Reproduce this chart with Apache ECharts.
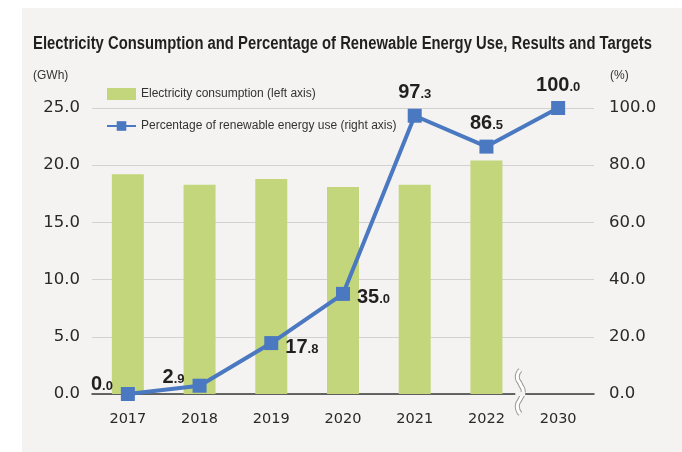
<!DOCTYPE html>
<html>
<head>
<meta charset="utf-8">
<style>
  html, body { margin: 0; padding: 0; background: #ffffff; }
  #chart { width: 682px; height: 452px; }
</style>
<script src="https://cdn.jsdelivr.net/npm/echarts@6/dist/echarts.min.js"></script>
</head>
<body>
<div id="chart"></div>
<script>
// Fiscal years on the category axis (2030 is the target year)
const years = ['2017', '2018', '2019', '2020', '2021', '2022', '2030'];
// Electricity consumption, GWh (no result for the 2030 target)
const consumption = [19.2, 18.3, 18.8, 18.1, 18.3, 20.4, null];
// Share of renewable energy, %
const renewableShare = [0.0, 2.9, 17.8, 35.0, 97.3, 86.5, 100.0];
// Tick settings for both value axes
const leftTicks = { min: 0, max: 25, interval: 5 };
const rightTicks = { min: 0, max: 100, interval: 20 };

const TITLE = 'Electricity Consumption and Percentage of Renewable Energy Use, Results and Targets';
const GREEN = '#c3d67b';
const BLUE = '#4a78c1';
const TEXT = '#231f20';
const PANEL = '#f4f3f1';
const SANS = '"Liberation Sans", Arial, sans-serif';
const WIDE = '"DejaVu Sans", sans-serif';

// Where each percentage label sits relative to its point
const labelPlacement = [
  { position: 'left', offset: [-3, -10] },
  { position: 'left', offset: [-3, -8] },
  { position: 'right', offset: [2, 4] },
  { position: 'right', offset: [2, 4] },
  { position: 'top', offset: [0, -1] },
  { position: 'top', offset: [0, -1] },
  { position: 'top', offset: [0, -1] }
];

function splitValue(v) {
  const s = v.toFixed(1).split('.');
  return '{i|' + s[0] + '}{d|.' + s[1] + '}';
}

const lineData = renewableShare.map(function (v, i) {
  return {
    value: v,
    label: {
      show: true,
      position: labelPlacement[i].position,
      offset: labelPlacement[i].offset,
      formatter: function (p) { return splitValue(p.value); },
      rich: {
        i: { fontFamily: SANS, fontWeight: 'bold', fontSize: 20, color: TEXT },
        d: { fontFamily: SANS, fontWeight: 'bold', fontSize: 13, color: TEXT, padding: [4, 0, 0, 0] }
      }
    }
  };
});

const chart = echarts.init(document.getElementById('chart'), null, { renderer: 'canvas' });

chart.setOption({
  backgroundColor: '#ffffff',
  animation: false,
  legend: {
    orient: 'vertical',
    left: 106,
    top: 88,
    padding: 0,
    itemGap: 19,
    itemWidth: 29,
    itemHeight: 12,
    itemGap: 20,
    textStyle: { fontFamily: SANS, fontSize: 12, color: '#333333' },
    data: [
      { name: 'Electricity consumption (left axis)', icon: 'rect', itemStyle: { color: GREEN } },
      { name: 'Percentage of renewable energy use (right axis)' }
    ]
  },
  grid: { left: 92, right: 88, top: 108, bottom: 58 },
  xAxis: {
    type: 'category',
    data: years,
    axisLine: { lineStyle: { color: '#3a3a3a', width: 1.5 } },
    axisTick: { show: false },
    axisLabel: { fontFamily: WIDE, fontSize: 14.5, color: '#2b2829', margin: 18 }
  },
  yAxis: [
    {
      type: 'value',
      min: leftTicks.min, max: leftTicks.max, interval: leftTicks.interval,
      axisLine: { show: false },
      axisTick: { show: false },
      splitLine: { lineStyle: { color: '#d2d2d2', width: 1 } },
      axisLabel: {
        fontFamily: WIDE, fontSize: 16.5, color: '#2b2829', margin: 12,
        formatter: function (v) { return v.toFixed(1); }
      }
    },
    {
      type: 'value',
      min: rightTicks.min, max: rightTicks.max, interval: rightTicks.interval,
      axisLine: { show: false },
      axisTick: { show: false },
      splitLine: { show: false },
      axisLabel: {
        fontFamily: WIDE, fontSize: 16.5, color: '#2b2829', margin: 15,
        formatter: function (v) { return v.toFixed(1); }
      }
    }
  ],
  series: [
    {
      name: 'Electricity consumption (left axis)',
      type: 'bar',
      yAxisIndex: 0,
      barWidth: 32,
      data: consumption,
      itemStyle: { color: GREEN },
      z: 2
    },
    {
      name: 'Percentage of renewable energy use (right axis)',
      type: 'line',
      yAxisIndex: 1,
      data: lineData,
      symbol: 'rect',
      symbolSize: 14,
      lineStyle: { color: BLUE, width: 4 },
      itemStyle: { color: BLUE },
      z: 5
    }
  ]
});

// The heading is set in a condensed width: squeeze it horizontally to fit
const titleFont = 'bold 18px ' + SANS;
const ctx = document.createElement('canvas').getContext('2d');
ctx.font = titleFont;
const titleScale = 619 / ctx.measureText(TITLE).width;

// Axis break between 2022 and 2030
const breakX = (chart.convertToPixel({ xAxisIndex: 0 }, 5) + chart.convertToPixel({ xAxisIndex: 0 }, 6)) / 2 - 2;
const axisY = chart.convertToPixel({ yAxisIndex: 0 }, 0);
const wave = [[0, 0], [-3, 7], [0, 14], [3, 22], [0, 29], [-3, 36], [0, 44]];

chart.setOption({
  graphic: [
    { type: 'rect', z: -10, silent: true, shape: { x: 22, y: 8, width: 700, height: 460 }, style: { fill: PANEL } },
    {
      type: 'text', x: 33, y: 44, scaleX: titleScale, silent: true,
      style: { text: TITLE, font: titleFont, fill: TEXT, textVerticalAlign: 'middle' }
    },
    { type: 'text', x: 33, y: 76, silent: true, style: { text: '(GWh)', font: '12px ' + SANS, fill: '#333333', textVerticalAlign: 'middle' } },
    { type: 'text', x: 610, y: 76, silent: true, style: { text: '(%)', font: '12px ' + SANS, fill: '#333333', textVerticalAlign: 'middle' } },
    { type: 'rect', z: 50, silent: true, shape: { x: breakX - 5, y: axisY - 2, width: 10, height: 4 }, style: { fill: PANEL } },
    {
      type: 'group', x: breakX, y: axisY - 24, z: 51, silent: true,
      children: [
        { type: 'polyline', shape: { points: wave, smooth: 0.6 }, style: { fill: null, stroke: '#9a9a9a', lineWidth: 5 } },
        { type: 'polyline', shape: { points: wave, smooth: 0.6 }, style: { fill: null, stroke: '#ffffff', lineWidth: 3 } }
      ]
    }
  ]
});
</script>
</body>
</html>
